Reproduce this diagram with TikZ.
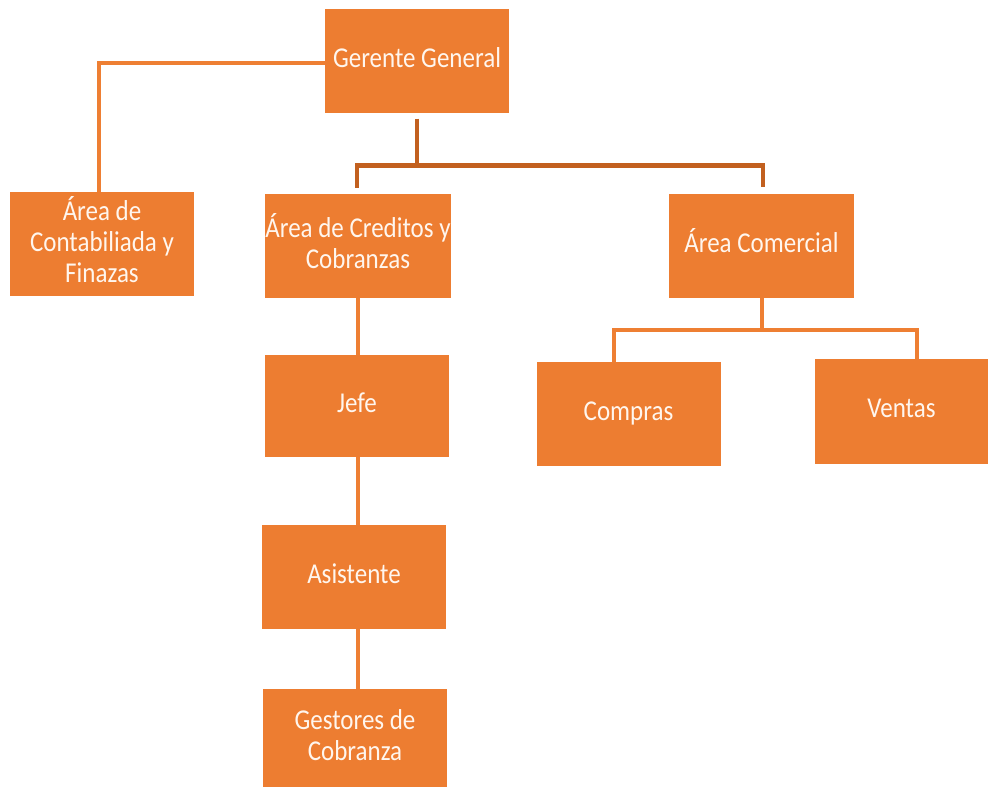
\documentclass[tikz,border=0pt]{standalone}
\usepackage{fontspec}
\usepackage{graphicx}
\setmainfont{Carlito}
\definecolor{boxor}{HTML}{ED7D31}
\definecolor{lineor}{HTML}{EE7F33}
\definecolor{darkor}{HTML}{C2601F}
\definecolor{txt}{HTML}{FFF6EE}
\newcommand{\lbl}[1]{\scalebox{1}[1.15]{\fontsize{25bp}{27bp}\selectfont\begin{tabular}{@{}c@{}}#1\end{tabular}}}
\begin{document}
\begin{tikzpicture}[x=1bp,y=-1bp,
  orgbox/.style={fill=boxor,draw=none,text=txt,inner sep=0pt,align=center},
  link/.style={draw=lineor,line width=4bp},
  darklink/.style={draw=darkor,line width=4.5bp}]
\useasboundingbox (0,0) rectangle (988,787);
\node[orgbox,minimum width=184bp,minimum height=103bp] (ger) at (417,61) {\lbl{Gerente General}};
\node[orgbox,minimum width=184bp,minimum height=104bp] (con) at (102,244) {\lbl{Área de\\Contabiliada y\\Finazas}};
\node[orgbox,minimum width=184bp,minimum height=104bp] (cre) at (358,246) {\lbl{Área de Creditos y\\Cobranzas}};
\node[orgbox,minimum width=185bp,minimum height=104bp] (com) at (761.5,245.5) {\lbl{Área Comercial}};
\node[orgbox,minimum width=184bp,minimum height=102bp] (jef) at (357,406) {\lbl{Jefe}};
\node[orgbox,minimum width=184bp,minimum height=104bp] (asi) at (354,577) {\lbl{Asistente}};
\node[orgbox,minimum width=184bp,minimum height=100bp] (ges) at (355,739) {\lbl{Gestores de\\Cobranza}};
\node[orgbox,minimum width=184bp,minimum height=104bp] (cmp) at (628.5,414) {\lbl{Compras}};
\node[orgbox,minimum width=173bp,minimum height=105bp] (ven) at (901.5,411.5) {\lbl{Ventas}};
% connectors
\draw[link] ([yshift=-2bp]ger.west) -| ([xshift=-3bp]con.north);
\draw[darklink] ([yshift=-6bp]ger.south) -- ++(0,47) coordinate (bus1);
\draw[darklink] ([xshift=-1bp,yshift=6bp]cre.north) |- (bus1) -| ([xshift=1.5bp,yshift=6bp]com.north);
\draw[link] (com.south) -- ++(0,32) coordinate (bus2);
\draw[link] ([xshift=-14.5bp]cmp.north) |- (bus2) -| ([xshift=15.5bp]ven.north);
\draw[link] (cre.south) -- (cre.south |- jef.north);
\draw[link] ([xshift=1bp]jef.south) -- ([xshift=1bp]jef.south |- asi.north);
\draw[link] ([xshift=4bp]asi.south) -- ([xshift=4bp]asi.south |- ges.north);
\end{tikzpicture}
\end{document}
